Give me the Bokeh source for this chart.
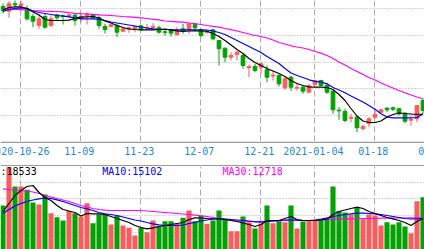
from bokeh.plotting import figure
from bokeh.models import Range1d, FixedTicker, Label, ColumnDataSource, Grid, Span
from bokeh.core.properties import value
from bokeh.layouts import column
from bokeh.embed import file_html
from bokeh.resources import INLINE

# ---------------- data ----------------
open_ = [29.40, 28.93, 29.67, 29.50, 29.17, 28.40, 27.50, 28.40, 27.50, 28.57,
         28.47, 28.40, 28.53, 28.17, 28.50, 28.60, 28.27, 27.40, 27.40, 27.50,
         26.93, 27.13, 27.17, 27.47, 27.23, 27.30, 27.27, 26.87, 27.07, 26.60,
         27.17, 27.07, 27.60, 27.07, 26.80, 27.07, 26.00, 25.23, 24.33, 24.60,
         24.50, 23.27, 23.40, 23.33, 23.07, 22.45, 22.50, 21.27, 22.33, 21.23,
         21.33, 20.83, 21.60, 22.00, 21.50, 20.93, 19.03, 18.90, 18.23, 18.33,
         17.17, 17.67, 18.33, 18.83, 19.23, 19.27, 19.17, 18.73, 18.03, 18.17,
         20.00]
high = [29.70, 29.95, 30.05, 30.10, 29.50, 28.67, 28.67, 28.67, 28.50, 28.67,
        28.60, 28.67, 28.67, 28.67, 28.83, 28.67, 28.50, 27.67, 27.70, 27.67,
        27.33, 27.40, 27.50, 27.57, 27.67, 27.73, 27.50, 27.07, 27.17, 27.33,
        27.67, 27.73, 27.67, 27.17, 27.00, 27.17, 26.05, 25.30, 24.83, 25.00,
        24.67, 23.60, 23.67, 23.83, 23.50, 22.93, 22.60, 22.33, 22.45, 21.67,
        21.50, 21.67, 22.10, 22.07, 21.73, 21.00, 19.33, 19.17, 18.67, 18.45,
        17.60, 18.33, 19.00, 19.17, 19.33, 19.40, 19.27, 18.83, 18.50, 19.57,
        20.20]
low = [28.70, 28.27, 29.33, 29.00, 28.00, 27.33, 27.17, 27.17, 27.33, 28.07,
       27.60, 28.33, 27.50, 27.83, 27.60, 28.17, 27.17, 26.70, 27.30, 26.33,
       26.83, 26.77, 26.83, 27.00, 27.07, 27.17, 26.67, 26.50, 26.40, 26.50,
       26.67, 26.67, 27.00, 26.33, 26.67, 26.00, 23.50, 23.83, 24.00, 24.00,
       23.17, 22.33, 22.83, 22.67, 21.83, 22.00, 21.40, 21.07, 20.93, 21.00,
       20.67, 20.73, 21.50, 21.40, 20.67, 18.67, 18.07, 17.83, 17.83, 16.83,
       17.07, 17.33, 18.17, 18.67, 18.83, 18.93, 18.50, 17.73, 17.50, 17.83,
       18.70]
close = [29.00, 29.67, 29.57, 29.65, 28.17, 27.93, 28.17, 27.33, 28.17, 28.27,
         28.40, 28.57, 28.00, 28.43, 28.60, 28.27, 27.50, 27.10, 27.57, 26.83,
         27.17, 27.27, 27.40, 27.07, 27.30, 27.40, 26.83, 26.81, 26.73, 27.07,
         26.93, 27.67, 27.27, 26.50, 26.90, 26.17, 25.17, 24.33, 24.50, 24.83,
         23.50, 23.40, 23.00, 23.67, 22.33, 22.55, 21.67, 22.17, 21.33, 21.30,
         20.93, 21.47, 22.00, 21.50, 20.83, 19.07, 18.97, 18.00, 18.30, 17.27,
         17.40, 18.17, 18.60, 19.07, 19.07, 19.13, 18.67, 17.93, 18.10, 19.50,
         19.00]
ma5 = [29.05, 29.30, 29.37, 29.37, 29.20, 28.85, 28.55, 28.10, 28.00, 28.00,
       28.00, 28.03, 28.20, 28.33, 28.37, 28.40, 28.25, 27.95, 27.75, 27.50,
       27.30, 27.15, 27.10, 27.07, 27.07, 27.07, 27.10, 27.15, 27.05, 26.95,
       26.90, 26.95, 26.97, 26.95, 26.93, 26.70, 26.40, 26.00, 25.55, 25.10,
       24.70, 24.20, 23.80, 23.50, 23.20, 22.95, 22.70, 22.40, 22.00, 21.70,
       21.50, 21.37, 21.33, 21.33, 21.30, 21.10, 20.60, 20.00, 19.20, 18.45,
       17.95, 17.80, 17.80, 17.95, 18.35, 18.60, 18.75, 18.70, 18.65, 18.60,
       18.65]
ma10 = [28.90, 29.10, 29.22, 29.27, 29.20, 28.95, 28.80, 28.70, 28.60, 28.50,
        28.45, 28.37, 28.25, 28.17, 28.17, 28.17, 28.12, 28.00, 27.85, 27.75,
        27.65, 27.55, 27.45, 27.35, 27.25, 27.17, 27.12, 27.10, 27.08, 27.07,
        27.07, 27.07, 27.07, 27.07, 27.05, 26.95, 26.80, 26.60, 26.30, 26.00,
        25.70, 25.40, 25.10, 24.80, 24.40, 24.05, 23.70, 23.20, 22.75, 22.50,
        22.30, 22.07, 21.92, 21.83, 21.67, 21.30, 21.05, 20.77, 20.45, 20.15,
        19.85, 19.50, 19.12, 18.67, 18.35, 18.27, 18.27, 18.27, 18.27, 18.30,
        18.65]
ma30 = [29.17, 29.14, 29.11, 29.08, 29.05, 29.00, 28.97, 28.94, 28.92, 28.90,
        28.87, 28.78, 28.72, 28.68, 28.66, 28.62, 28.57, 28.53, 28.50, 28.45,
        28.40, 28.37, 28.32, 28.27, 28.20, 28.12, 28.06, 27.95, 27.91, 27.87,
        27.83, 27.75, 27.68, 27.60, 27.50, 27.42, 27.33, 27.20, 27.08, 26.95,
        26.80, 26.65, 26.50, 26.40, 26.25, 26.05, 25.80, 25.65, 25.47, 25.35,
        25.25, 25.10, 24.90, 24.73, 24.50, 24.20, 23.85, 23.55, 23.20, 22.90,
        22.60, 22.30, 22.05, 21.75, 21.50, 21.25, 21.00, 20.77, 20.55, 20.35,
        20.17]
volume = [22000, 41150, 31500, 31500, 29850, 23500, 22500, 27500, 18150, 16150,
          14500, 19250, 18150, 16500, 23150, 13150, 17500, 17500, 12500, 16850,
          12000, 10850, 7000, 10850, 8650, 14500, 11500, 14150, 14150, 12850,
          15850, 19500, 14150, 16850, 12850, 14500, 19500, 15350, 9150, 9150,
          16500, 13650, 10500, 13000, 22000, 13150, 14150, 13650, 22000, 10500,
          14000, 14500, 14500, 15000, 15850, 31500, 19250, 18500, 17500, 21000,
          15150, 17500, 17000, 12000, 13650, 12500, 13650, 11500, 8150, 24150,
          26150]
vma5 = [19000, 23000, 27000, 29500, 31500, 32000, 28500, 26000, 24500, 22000,
        20000, 19250, 18500, 16750, 18000, 17850, 17850, 17500, 16500, 15500,
        14500, 13500, 12000, 11000, 10350, 10850, 11500, 12000, 12500, 13000,
        13500, 15000, 15850, 15750, 15500, 15350, 15250, 15000, 14500, 14000,
        13250, 12500, 11500, 12500, 14500, 14500, 14500, 15500, 16500, 15000,
        14500, 14500, 14500, 14750, 15250, 17500, 19000, 19750, 20500, 21150,
        20500, 19000, 18000, 17000, 16000, 15350, 14500, 13500, 12000, 14000,
        15500]
vma10 = [18000, 20000, 21750, 23000, 24000, 24750, 25350, 25750, 25500, 24850,
         24000, 23000, 22000, 21000, 20350, 19500, 18500, 17850, 17500, 17000,
         16250, 15500, 14750, 14250, 13500, 12850, 12350, 12000, 12000, 12000,
         12250, 13000, 13500, 14250, 14750, 15250, 15500, 15250, 15000, 14750,
         14500, 14250, 13850, 13650, 14000, 14250, 14500, 14750, 14850, 14750,
         14500, 14500, 14750, 15250, 15750, 16500, 17000, 17500, 17850, 18150,
         18150, 18000, 17850, 17500, 17000, 16500, 16000, 15500, 15250, 15350,
         15500]
vma30 = [30350, 30000, 29750, 29500, 29250, 28750, 28000, 27000, 26150, 25500,
         24750, 24000, 23000, 22000, 21250, 20500, 20000, 19650, 19500, 19500,
         19500, 19500, 19500, 19500, 19250, 19000, 18750, 18500, 18250, 18000,
         17750, 17500, 17150, 16850, 16500, 16000, 15500, 15000, 14500, 14250,
         14150, 14000, 14000, 14000, 14150, 14250, 14350, 14500, 14500, 14500,
         14500, 14500, 14500, 14750, 15000, 15350, 15350, 15350, 15350, 15500,
         15500, 15500, 15500, 15650, 15650, 15750, 15750, 15750, 15850, 15850,
         15850]
tick_index = [3, 13, 23, 33, 43, 52, 62, 72]
tick_labels = ["2020-10-26", "11-09", "11-23", "12-07", "12-21", "2021-01-04",
               "01-18", "02-01"]
legend_texts = ["MA5:18533", "MA10:15102", "MA30:12718"]

# ---------------- styling ----------------
UP = "#f65d5d"
DOWN = "#04a004"
AXIS_TEXT = "#1e88d2"
GRID = "#aaaaaa"
SEP = "#9a9a9a"
FONT = "DejaVu Sans Mono"
W = 424
GRID_SHIFT = -0.13    # grid lines sit a hair left of the candle centre
LABEL_SHIFT = -0.28   # date texts are centred a little further left

idx = list(range(len(open_)))
colors = [UP if c >= o else DOWN for o, c in zip(open_, close)]
src = ColumnDataSource(dict(
    x=idx, h=high, l=low,
    top=[max(o, c) for o, c in zip(open_, close)],
    bot=[min(o, c) for o, c in zip(open_, close)],
    color=colors, vol=volume,
    ma5=ma5, ma10=ma10, ma30=ma30, vma5=vma5, vma10=vma10, vma30=vma30,
))
tick_src = ColumnDataSource(dict(x=[t + LABEL_SHIFT for t in tick_index], t=tick_labels))
grid_ticks = [t + GRID_SHIFT for t in tick_index]

xr = Range1d(-0.417, 70.25)


def bare(height, y_range):
    f = figure(width=W, height=height, x_range=xr, y_range=y_range,
               output_backend="svg", toolbar_location=None,
               x_axis_location=None, y_axis_location=None,
               min_border_left=0, min_border_right=0, min_border_top=0,
               min_border_bottom=0, outline_line_color=None,
               background_fill_color="white", border_fill_color="white")
    f.center = [r for r in f.center if not isinstance(r, Grid)]
    return f


def add_grids(f, yticks):
    f.add_layout(Grid(dimension=0, ticker=FixedTicker(ticks=grid_ticks),
                      grid_line_color=GRID, grid_line_dash="6 3", grid_line_width=1))
    f.add_layout(Grid(dimension=1, ticker=FixedTicker(ticks=yticks),
                      grid_line_color=GRID, grid_line_dash="1 2", grid_line_width=1))


# ---- main candlestick panel ----
p = bare(141, Range1d(15.9, 30.0))
add_grids(p, [18.5, 21.17, 23.83, 26.5, 29.17])
p.segment(x0="x", y0="h", x1="x", y1="l", color="color", line_width=1, source=src)
p.vbar(x="x", width=0.62, top="top", bottom="bot", fill_color="color",
       line_color="color", line_width=1, source=src)
p.line("x", "ma30", color="#ff00ff", line_width=1.2, source=src)
p.line("x", "ma10", color="#0000ff", line_width=1.2, source=src)
p.line("x", "ma5", color="black", line_width=1.2, source=src)

# ---- date strip ----
d = bare(25, Range1d(0, 25))
d.add_layout(Span(location=24.3, dimension="width", line_color=SEP, line_width=1.5))
d.add_layout(Span(location=0.7, dimension="width", line_color=SEP, line_width=1.5))
d.text(x="x", y=16, text="t", source=tick_src, text_font=value(FONT),
       text_font_size="10px", text_color=AXIS_TEXT, text_align="center",
       text_baseline="middle")

# ---- volume panel ----
v = bare(83, Range1d(0, 41500))
add_grids(v, [8650, 17000, 25350, 33650])
v.vbar(x="x", width=0.85, top="vol", bottom=0, fill_color="color",
       line_color=None, source=src)
v.line("x", "vma30", color="#ff00ff", line_width=1.2, source=src)
v.line("x", "vma10", color="#0000ff", line_width=1.2, source=src)
v.line("x", "vma5", color="black", line_width=1.2, source=src)

for txt, xpos, col in zip(legend_texts, [-3.417, 16.53, 36.58],
                          ["black", "#0000ff", "#ff00ff"]):
    v.add_layout(Label(x=xpos, y=39000, text=txt, text_font=FONT,
                       text_font_size="10px", text_color=col,
                       text_align="left", text_baseline="middle"))

layout = column(p, d, v, spacing=0)
open("out.html", "w").write(file_html(layout, INLINE))
